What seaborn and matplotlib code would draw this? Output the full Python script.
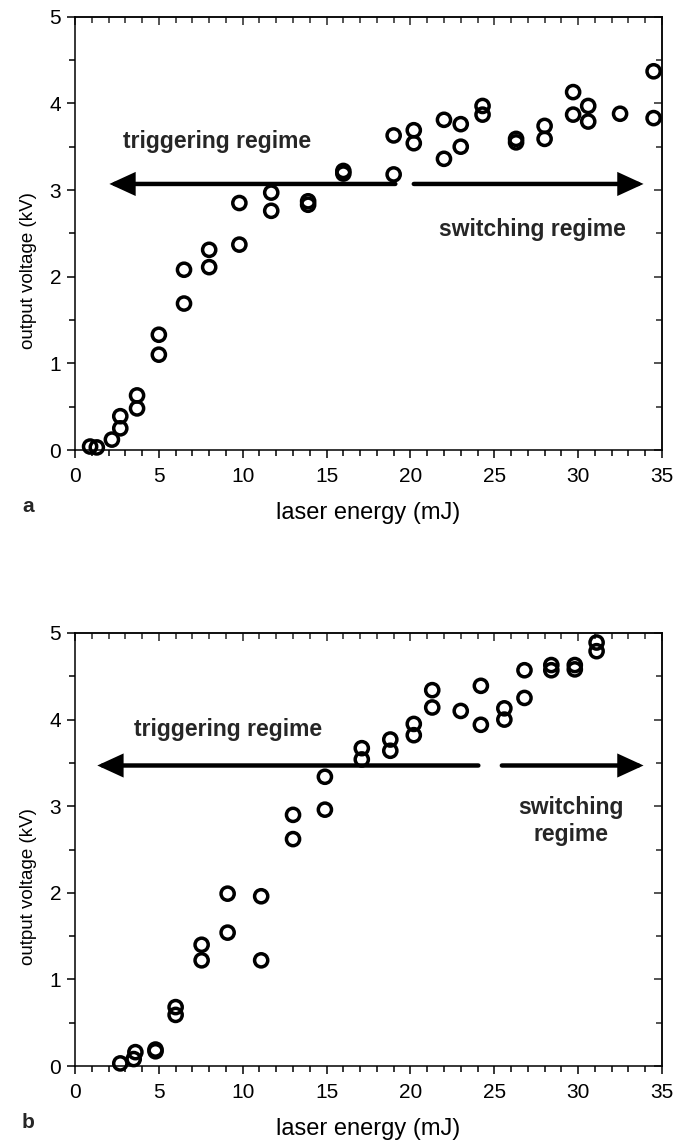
import numpy as np
import pandas as pd
import matplotlib
matplotlib.use("Agg")
import matplotlib.pyplot as plt
import seaborn as sns
from matplotlib.ticker import MultipleLocator

# ---------------- data ----------------
a_energy = [0.9, 1.3, 2.2, 2.7, 2.7, 3.7, 3.7, 5.0, 5.0, 6.5, 6.5, 8.0, 8.0,
            9.8, 9.8, 11.7, 11.7, 13.9, 13.9, 16.0, 16.0,
            19.0, 19.0, 20.2, 20.2, 22.0, 22.0, 23.0, 23.0, 24.3, 24.3,
            26.3, 26.3, 28.0, 28.0, 29.7, 29.7, 30.6, 30.6, 32.5, 34.5, 34.5]
a_voltage = [0.04, 0.03, 0.12, 0.25, 0.39, 0.63, 0.48, 1.33, 1.10, 2.08, 1.69, 2.31, 2.11,
             2.85, 2.37, 2.97, 2.76, 2.87, 2.83, 3.22, 3.19,
             3.18, 3.63, 3.69, 3.54, 3.81, 3.36, 3.76, 3.50, 3.97, 3.87,
             3.59, 3.55, 3.74, 3.59, 4.13, 3.87, 3.97, 3.79, 3.88, 4.37, 3.83]

b_energy = [2.7, 3.5, 3.6, 4.8, 4.8, 6.0, 6.0, 7.55, 7.55, 9.1, 9.1, 11.1, 11.1,
            13.0, 13.0, 14.9, 14.9, 17.1, 17.1, 18.8, 18.8, 20.2, 20.2,
            21.3, 21.3, 23.0, 24.2, 24.2, 25.6, 25.6, 26.8, 26.8,
            28.4, 28.4, 29.8, 29.8, 31.1, 31.1]
b_voltage = [0.03, 0.08, 0.16, 0.19, 0.17, 0.68, 0.59, 1.40, 1.22, 1.99, 1.54, 1.96, 1.22,
             2.90, 2.62, 3.34, 2.96, 3.67, 3.54, 3.77, 3.64, 3.95, 3.82,
             4.34, 4.14, 4.10, 4.39, 3.94, 4.13, 4.00, 4.57, 4.25,
             4.63, 4.57, 4.63, 4.58, 4.89, 4.79]

x_ticks = [0, 5, 10, 15, 20, 25, 30, 35]
y_ticks = [0, 1, 2, 3, 4, 5]

panel_labels = ["a", "b"]
xlabel_text = "laser energy (mJ)"
ylabel_text = "output voltage (kV)"
trig_text = "triggering regime"
switch_text = ["switching regime", "switching\nregime"]

# arrow endpoints (data units): (y, left_tip, left_end, right_start, right_tip)
arrows = [(3.07, 2.05, 19.1, 20.2, 33.9),
          (3.47, 1.33, 24.05, 25.45, 33.9)]
trig_pos = [(8.45, 3.56), (9.1, 3.88)]
switch_pos = [(27.25, 2.54), (29.6, 2.83)]

# ---------------- style ----------------
sns.set_style("ticks")
plt.rcParams['font.family'] = ['Liberation Sans', 'DejaVu Sans']
plt.rcParams['axes.linewidth'] = 1.1

fig = plt.figure(figsize=(6.77, 11.47), dpi=100)
W, H = 677, 1147
left, right = 75 / W, 662 / W
boxes = [(1 - 450 / H, 1 - 16.7 / H), (1 - 1066 / H, 1 - 633 / H)]

datasets = [(a_energy, a_voltage), (b_energy, b_voltage)]

for i, ((xe, yv), (bot, top)) in enumerate(zip(datasets, boxes)):
    ax = fig.add_axes([left, bot, right - left, top - bot])
    df = pd.DataFrame({"energy": xe, "voltage": yv})
    sns.scatterplot(data=df, x="energy", y="voltage", ax=ax, marker="o",
                    s=90, facecolor="none", edgecolor="black", linewidth=2.5,
                    zorder=3, clip_on=False)
    ax.set_xlim(0, 35)
    ax.set_ylim(0, 5)
    ax.set_xticks(x_ticks)
    ax.set_yticks(y_ticks)
    ax.xaxis.set_minor_locator(MultipleLocator(1))
    ax.yaxis.set_minor_locator(MultipleLocator(0.5))
    for s in ax.spines.values():
        s.set_visible(True)
        s.set_color("black")
        s.set_linewidth(1.1)
    ax.tick_params(which="major", direction="out", length=6, width=1.1,
                   labelsize=15, colors="black")
    ax.tick_params(axis="x", which="major", pad=6)
    ax.tick_params(axis="y", which="major", pad=4)
    ax.tick_params(which="minor", direction="out", length=4, width=1.1, colors="black")
    ax.tick_params(top=False, right=False, which="both")
    # inward ticks on top/right
    sx = ax.secondary_xaxis("top")
    sx.set_xticks(x_ticks)
    sx.xaxis.set_minor_locator(MultipleLocator(1))
    sx.tick_params(which="major", direction="in", length=6, width=1.1, labeltop=False)
    sx.tick_params(which="minor", direction="in", length=4, width=1.1)
    sy = ax.secondary_yaxis("right")
    sy.set_yticks(y_ticks)
    sy.yaxis.set_minor_locator(MultipleLocator(0.5))
    sy.tick_params(which="major", direction="in", length=6, width=1.1, labelright=False)
    sy.tick_params(which="minor", direction="in", length=4, width=1.1)

    ax.set_xlabel(xlabel_text, fontsize=17, labelpad=12, color="black")
    ax.set_ylabel(ylabel_text, fontsize=13.5, color="black", va="center")
    ax.yaxis.set_label_coords(-46 / 587, 0.414)

    y, lt, le, rs, rt = arrows[i]
    aprops = dict(arrowstyle="-|>,head_length=1.35,head_width=0.62",
                  lw=3.2, color="black", shrinkA=0, shrinkB=0,
                  mutation_scale=10, joinstyle="miter", capstyle="round")
    ax.annotate("", xy=(lt, y), xytext=(le, y), arrowprops=aprops, zorder=2)
    ax.annotate("", xy=(rt, y), xytext=(rs, y), arrowprops=aprops, zorder=2)

    ax.text(*trig_pos[i], trig_text, ha="center", va="center", fontsize=16.5,
            fontweight="bold")
    ax.text(*switch_pos[i], switch_text[i], ha="center", va="center", fontsize=16.5,
            fontweight="bold", linespacing=1.25)

fig.text(28 / W, 1 - 507 / H, panel_labels[0], fontsize=15, fontweight="bold",
         ha="center", va="center")
fig.text(28 / W, 1 - 1123 / H, panel_labels[1], fontsize=15, fontweight="bold",
         ha="center", va="center")

fig.savefig("out.png", dpi=100)
